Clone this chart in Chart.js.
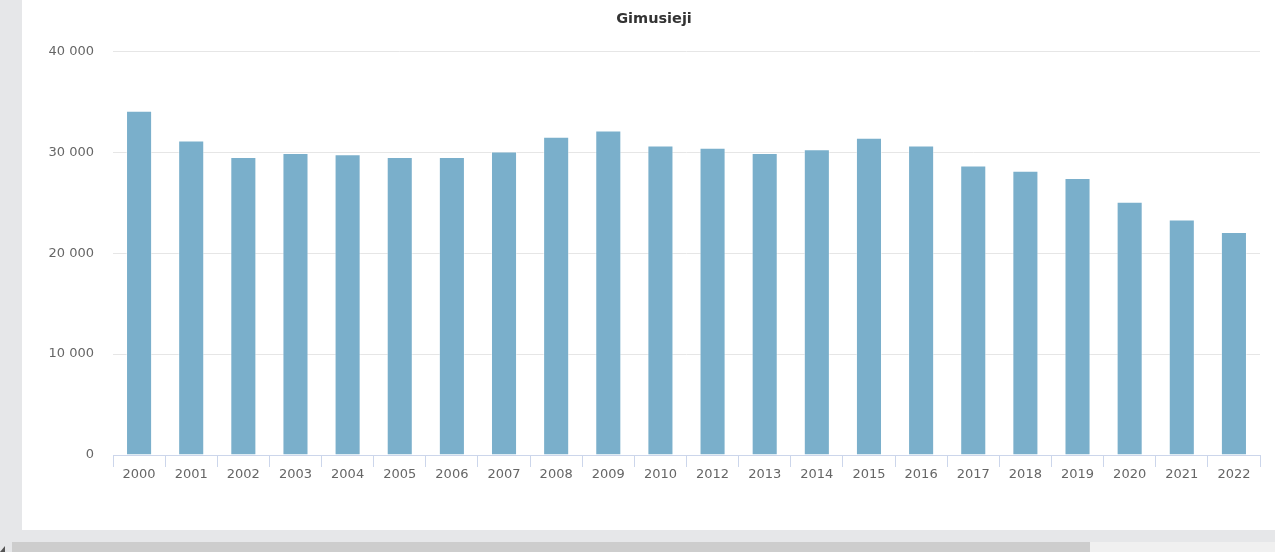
<!DOCTYPE html>
<html>
<head>
<meta charset="utf-8">
<script src="https://cdn.jsdelivr.net/npm/chart.js@4"></script>
<style>
  html, body { margin: 0; padding: 0; }
  body { width: 1275px; height: 552px; background: #e6e7e9; position: relative; overflow: hidden; }
  .panel { position: absolute; left: 22px; top: 0; width: 1253px; height: 530px; background: #fff; }
  .track { position: absolute; left: 12px; top: 542px; width: 1263px; height: 10px; background: #f0f0f0; }
  .thumb { position: absolute; left: 12px; top: 542px; width: 1078px; height: 10px; background: #cdcdcd; }
  .arrow { position: absolute; left: 0; top: 546px; width: 0; height: 0;
           border-left: 5px solid transparent; border-bottom: 6px solid #555; }
</style>
</head>
<body>
<div class="panel"><canvas id="myChart" width="1253" height="530"></canvas></div>
<div class="track"></div>
<div class="thumb"></div>
<div class="arrow"></div>
<script>
const years = ["2000", "2001", "2002", "2003", "2004", "2005", "2006", "2007", "2008", "2009", "2010",
  "2012", "2013", "2014", "2015", "2016", "2017", "2018", "2019", "2020", "2021", "2022"];
const births = [34120, 31160, 29540, 29940, 29800, 29540, 29540, 30070, 31530, 32160, 30670,
  30440, 29940, 30300, 31430, 30670, 28680, 28180, 27450, 25090, 23330, 22100];
const yTicks = [0, 10000, 20000, 30000, 40000];

const ctx = document.getElementById("myChart");

new Chart(ctx, {
  type: "bar",
  data: {
    labels: years,
    datasets: [
      {
        label: "Gimusieji",
        data: births,
        backgroundColor: "#7aafcb",
        borderColor: "rgba(255,255,255,0.45)",
        borderWidth: 1,
        barPercentage: 0.5,
        categoryPercentage: 1,
      },
    ],
  },
  options: {
    responsive: false,
    animation: false,
    layout: { padding: { left: 26, right: 15, top: 0, bottom: 0 } },
    plugins: {
      legend: { display: false },
      tooltip: { enabled: false },
      title: {
        display: true,
        text: "Gimusieji",
        color: "#333333",
        font: { family: "DejaVu Sans", size: 14.5, weight: "bold" },
        padding: { top: 11, bottom: 23 },
      },
    },
    scales: {
      x: {
        afterFit: (axis) => { axis.height = 75; },
        grid: { drawOnChartArea: false, color: "#ccd6eb", tickLength: 12 },
        border: { color: "#ccd6eb" },
        ticks: { color: "#666666", font: { family: "DejaVu Sans", size: 13 }, padding: 0 },
      },
      y: {
        min: 0,
        max: 40000,
        afterFit: (axis) => { axis.width = 65; },
        afterBuildTicks: (axis) => { axis.ticks = yTicks.map((v) => ({ value: v })); },
        grid: { color: "#e6e6e6", drawTicks: false },
        border: { display: false },
        ticks: {
          color: "#666666",
          font: { family: "DejaVu Sans", size: 13 },
          padding: 19,
          callback: (v) => String(v).replace(/\B(?=(\d{3})+(?!\d))/g, " "),
        },
      },
    },
  },
});
</script>
</body>
</html>
